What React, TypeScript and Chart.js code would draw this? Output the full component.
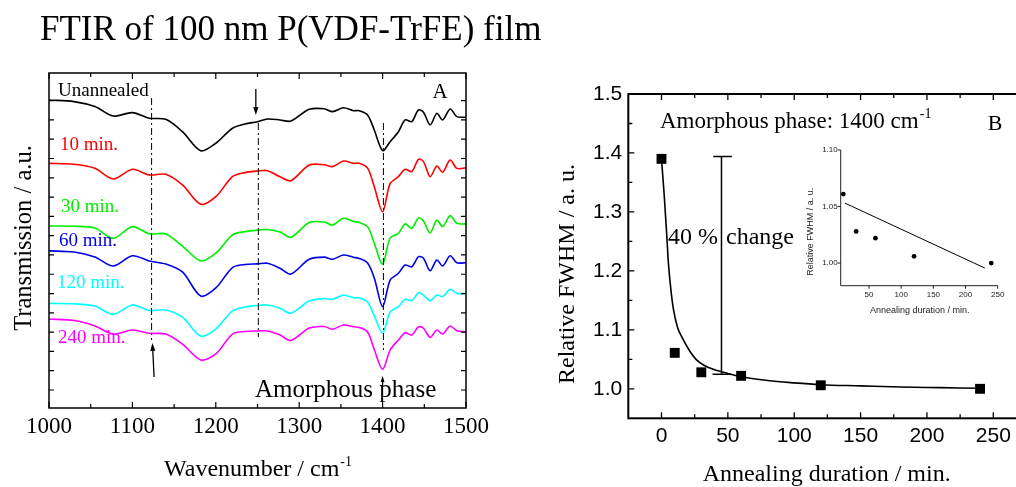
import React, { useEffect, useRef } from "react";
import { Chart, registerables } from "chart.js";

Chart.register(...registerables);

// ---------- Panel A: FTIR spectra ----------
const wavenumbers = [1000, 1030, 1055, 1077, 1100, 1120, 1140, 1160, 1182, 1200, 1220, 1235, 1250, 1262, 1277, 1290, 1312, 1330, 1340, 1353, 1365, 1372, 1382, 1390, 1400, 1409, 1419, 1427, 1435, 1443, 1449, 1457, 1465, 1472, 1481, 1489, 1500];
const unannealed = [15.03, 14.95, 14.69, 14.2, 14.38, 14.09, 14.03, 13.39, 12.4, 12.79, 13.57, 13.79, 13.91, 14.05, 14.0, 13.94, 14.55, 14.58, 14.43, 14.63, 14.48, 14.48, 14.26, 13.48, 12.41, 12.87, 13.39, 14.0, 13.91, 14.52, 14.4, 13.74, 14.34, 14.0, 14.57, 14.17, 14.14];
const min10 = [11.75, 11.7, 11.49, 10.94, 11.44, 11.15, 11.18, 10.63, 9.63, 10.02, 11.06, 11.27, 11.35, 11.37, 11.05, 10.85, 11.66, 11.68, 11.58, 11.87, 11.75, 11.75, 11.5, 10.54, 9.24, 10.7, 11.06, 11.44, 11.32, 11.96, 11.84, 11.06, 11.61, 11.29, 11.92, 11.49, 11.52];
const min30 = [8.5, 8.49, 8.4, 7.86, 8.47, 8.1, 8.09, 7.46, 6.69, 7.09, 8.04, 8.21, 8.29, 8.32, 8.19, 7.92, 8.68, 8.71, 8.55, 8.9, 8.74, 8.68, 8.47, 7.61, 6.53, 7.88, 8.12, 8.61, 8.38, 8.92, 8.76, 8.14, 8.81, 8.47, 9.04, 8.64, 8.61];
const min60 = [7.21, 7.15, 6.89, 6.43, 6.96, 6.69, 6.53, 6.12, 4.87, 5.29, 6.35, 6.51, 6.54, 6.57, 6.31, 6.01, 6.78, 6.89, 6.78, 7.0, 6.88, 6.82, 6.58, 5.81, 4.32, 5.7, 6.05, 6.48, 6.39, 6.91, 6.83, 6.18, 6.74, 6.43, 6.96, 6.6, 6.6];
const min120 = [4.49, 4.47, 4.35, 3.92, 4.41, 4.12, 4.15, 3.78, 2.8, 3.16, 4.1, 4.3, 4.38, 4.41, 4.24, 3.98, 4.61, 4.74, 4.7, 4.92, 4.78, 4.77, 4.56, 3.84, 2.94, 4.04, 4.32, 4.7, 4.63, 5.04, 4.92, 4.63, 4.92, 4.84, 5.22, 5.01, 5.01];
const min240 = [3.68, 3.6, 3.32, 2.9, 3.11, 2.94, 2.9, 2.38, 1.56, 1.87, 2.9, 3.03, 3.06, 3.06, 2.85, 2.57, 3.21, 3.29, 3.15, 3.37, 3.28, 3.24, 3.01, 2.1, 1.07, 2.07, 2.59, 2.97, 2.85, 3.28, 3.2, 2.73, 3.11, 2.9, 3.32, 3.07, 3.02];
const spectraLabels = ["Unannealed", "10 min.", "30 min.", "60 min.", "120 min.", "240 min."];
const spectraColors = ["#000000", "#ff0000", "#00ee00", "#0000e6", "#00ffff", "#ff00ff"];
const xMajorA = [1000, 1100, 1200, 1300, 1400, 1500];
const xMinorA = [1050, 1150, 1250, 1350, 1450];
const yTicksA = [0, 1, 2, 3, 4, 5, 6, 7, 8, 9, 10, 11, 12, 13, 14, 15];

// ---------- Panel B: relative FWHM ----------
const durations = [0, 10, 30, 60, 120, 240];
const relFwhm = [1.39, 1.061, 1.028, 1.022, 1.006, 1.0];
const fitDurations = [0, 2, 4, 5, 7, 9, 12, 16, 21, 26, 32, 39, 50, 59, 80, 100, 120, 150, 180, 210, 240];
const fitValues = [1.39, 1.33, 1.26, 1.22, 1.17, 1.135, 1.105, 1.085, 1.065, 1.05, 1.04, 1.033, 1.026, 1.021, 1.014, 1.01, 1.007, 1.005, 1.003, 1.002, 1.001];
const xMajorB = [0, 50, 100, 150, 200, 250];
const xMinorB = [25, 75, 125, 175, 225];
const yMajorB = [1.0, 1.1, 1.2, 1.3, 1.4, 1.5];
const yMinorB = [1.05, 1.15, 1.25, 1.35, 1.45];

// ---------- Inset ----------
const insetDurations = [10, 30, 60, 120, 240];
const insetFwhm = [1.061, 1.028, 1.022, 1.006, 1.0];
const insetFitDurations = [12.7, 230];
const insetFitValues = [1.053, 0.9956];
const insetXTicks = [50, 100, 150, 200, 250];
const insetYTicks = [1.0, 1.05, 1.1];

const W = 1040;
const H = 487;
const SERIF = '"Liberation Serif", "Times New Roman", serif';
const SANS = '"Liberation Sans", Arial, sans-serif';

function fixedTicks(values: number[]) {
  return (s: any) => {
    s.ticks = values.map((v) => ({ value: v }));
  };
}

function arrow(ctx: CanvasRenderingContext2D, x1: number, y1: number, x2: number, y2: number, head = 7) {
  const a = Math.atan2(y2 - y1, x2 - x1);
  const c = Math.cos(a), s = Math.sin(a);
  ctx.beginPath();
  ctx.moveTo(x1, y1);
  ctx.lineTo(x2 - c * head * 0.7, y2 - s * head * 0.7);
  ctx.stroke();
  ctx.beginPath();
  ctx.moveTo(x2, y2);
  ctx.lineTo(x2 - head * c + head * 0.32 * s, y2 - head * s - head * 0.32 * c);
  ctx.lineTo(x2 - head * c - head * 0.32 * s, y2 - head * s + head * 0.32 * c);
  ctx.closePath();
  ctx.fill();
}

function supText(ctx: CanvasRenderingContext2D, main: string, sup: string, x: number, y: number, size: number, supSize: number, rise: number, align: "left" | "center") {
  ctx.font = `${size}px ${SERIF}`;
  const w1 = ctx.measureText(main).width;
  ctx.font = `${supSize}px ${SERIF}`;
  const w2 = sup ? ctx.measureText(sup).width : 0;
  const x0 = align === "center" ? x - (w1 + w2) / 2 : x;
  ctx.textAlign = "left";
  ctx.textBaseline = "alphabetic";
  ctx.font = `${size}px ${SERIF}`;
  ctx.fillText(main, x0, y);
  if (sup) {
    ctx.font = `${supSize}px ${SERIF}`;
    ctx.fillText(sup, x0 + w1 + 1, y - rise);
  }
}

function drawTicks(ctx: CanvasRenderingContext2D, chart: any, axis: "x" | "y", values: number[], len: number, sides: string[], outward = false) {
  const { left, right, top, bottom } = chart.chartArea;
  const sc = chart.scales[axis];
  ctx.beginPath();
  values.forEach((v) => {
    const p = sc.getPixelForValue(v);
    sides.forEach((side) => {
      const d = outward ? -len : len;
      if (side === "bottom") { ctx.moveTo(p, bottom); ctx.lineTo(p, bottom - d); }
      if (side === "top") { ctx.moveTo(p, top); ctx.lineTo(p, top + d); }
      if (side === "left") { ctx.moveTo(left, p); ctx.lineTo(left + d, p); }
      if (side === "right") { ctx.moveTo(right, p); ctx.lineTo(right - d, p); }
    });
  });
  ctx.stroke();
}

const pluginA = {
  id: "panelA",
  afterDraw(chart: any) {
    const ctx: CanvasRenderingContext2D = chart.ctx;
    const { left, right, top, bottom } = chart.chartArea;
    const xs = chart.scales.x, ys = chart.scales.y;
    const X = (v: number) => xs.getPixelForValue(v);
    const Y = (v: number) => ys.getPixelForValue(v);
    ctx.save();
    ctx.strokeStyle = "#000";
    ctx.fillStyle = "#000";
    ctx.lineWidth = 1.5;
    ctx.strokeRect(left, top, right - left, bottom - top);
    ctx.lineWidth = 1.2;
    drawTicks(ctx, chart, "x", xMajorA, 6, ["bottom", "top"]);
    drawTicks(ctx, chart, "x", xMinorA, 4, ["bottom", "top"]);
    drawTicks(ctx, chart, "y", yTicksA, 5, ["left", "right"]);

    // dash-dot marker lines
    ctx.lineWidth = 1;
    ctx.setLineDash([7, 3, 2, 3]);
    const vlines = [[1123, 15.14, 2.59], [1251, 13.84, 2.75], [1401, 13.84, 2.07]];
    vlines.forEach(([wx, y1, y2]) => {
      ctx.beginPath();
      ctx.moveTo(X(wx), Y(y1));
      ctx.lineTo(X(wx), Y(y2));
      ctx.stroke();
    });
    ctx.setLineDash([]);
    ctx.lineWidth = 1.3;
    arrow(ctx, X(1248), Y(15.6), X(1248), Y(14.26), 8);
    arrow(ctx, X(1126), Y(0.67), X(1124), Y(2.44), 8);
    arrow(ctx, X(1400), Y(0.14), X(1400), Y(0.73), 6);

    // labels
    ctx.textAlign = "left";
    ctx.textBaseline = "middle";
    ctx.font = `19px ${SERIF}`;
    const lx = [58, 60, 61, 59, 57, 58];
    const ly = [91, 145, 207, 241, 283, 338];
    spectraLabels.forEach((t, i) => {
      ctx.fillStyle = spectraColors[i];
      ctx.fillText(t, lx[i], ly[i]);
    });
    ctx.fillStyle = "#000";
    ctx.textBaseline = "alphabetic";
    ctx.font = `21px ${SERIF}`;
    ctx.textAlign = "center";
    ctx.fillText("A", 440, 98);
    ctx.textAlign = "left";
    ctx.font = `25px ${SERIF}`;
    ctx.fillText("Amorphous phase", 255, 397);

    // axis titles
    supText(ctx, "Wavenumber / cm", "-1", (left + right) / 2, 476, 24, 14, 10, "center");
    ctx.save();
    ctx.translate(31, 238);
    ctx.rotate(-Math.PI / 2);
    ctx.textAlign = "center";
    ctx.textBaseline = "alphabetic";
    ctx.font = `24.5px ${SERIF}`;
    ctx.fillText("Transmission / a.u.", 0, 0);
    ctx.restore();

    // figure title
    ctx.textAlign = "left";
    ctx.textBaseline = "alphabetic";
    ctx.font = `35px ${SERIF}`;
    ctx.fillText("FTIR of 100 nm P(VDF-TrFE) film", 40, 40);
    ctx.restore();
  },
};

const pluginB = {
  id: "panelB",
  afterDraw(chart: any) {
    const ctx: CanvasRenderingContext2D = chart.ctx;
    const { left, right, top, bottom } = chart.chartArea;
    const xs = chart.scales.x, ys = chart.scales.y;
    const X = (v: number) => xs.getPixelForValue(v);
    const Y = (v: number) => ys.getPixelForValue(v);
    ctx.save();
    ctx.strokeStyle = "#000";
    ctx.fillStyle = "#000";
    ctx.lineWidth = 2;
    ctx.strokeRect(left, top, right - left, bottom - top);
    ctx.lineWidth = 1.3;
    drawTicks(ctx, chart, "x", xMajorB, 6, ["bottom", "top"]);
    drawTicks(ctx, chart, "x", xMinorB, 4, ["bottom", "top"]);
    drawTicks(ctx, chart, "y", yMajorB, 6, ["left"]);
    drawTicks(ctx, chart, "y", yMinorB, 4, ["left"]);

    // 40 % change bar
    ctx.lineWidth = 1.5;
    ctx.beginPath();
    ctx.moveTo(X(45.2), Y(1.394));
    ctx.lineTo(X(45.2), Y(1.0245));
    ctx.moveTo(X(39), Y(1.394));
    ctx.lineTo(X(53), Y(1.394));
    ctx.moveTo(X(38.5), Y(1.0245));
    ctx.lineTo(X(52.5), Y(1.0245));
    ctx.stroke();

    ctx.font = `24px ${SERIF}`;
    ctx.textBaseline = "alphabetic";
    ctx.textAlign = "right";
    ctx.fillText("40 %", 718, 244);
    ctx.textAlign = "left";
    ctx.fillText("change", 726, 244);
    supText(ctx, "Amorphous phase: 1400 cm", "-1", 660, 128, 23, 14, 10, "left");
    ctx.font = `22px ${SERIF}`;
    ctx.textAlign = "center";
    ctx.fillText("B", 995, 130);

    supText(ctx, "Annealing duration / min.", "", 826.7, 481, 24, 14, 10, "center");
    ctx.save();
    ctx.translate(574, 274);
    ctx.rotate(-Math.PI / 2);
    ctx.textAlign = "center";
    ctx.textBaseline = "alphabetic";
    ctx.font = `24px ${SERIF}`;
    ctx.fillText("Relative FWHM / a. u.", 0, 0);
    ctx.restore();
    ctx.restore();
  },
};

const pluginInset = {
  id: "inset",
  afterDraw(chart: any) {
    const ctx: CanvasRenderingContext2D = chart.ctx;
    const { left, right, top, bottom } = chart.chartArea;
    ctx.save();
    ctx.strokeStyle = "#222";
    ctx.fillStyle = "#222";
    ctx.lineWidth = 1;
    ctx.beginPath();
    ctx.moveTo(left, top);
    ctx.lineTo(left, bottom);
    ctx.lineTo(right, bottom);
    ctx.stroke();
    drawTicks(ctx, chart, "x", insetXTicks, 3, ["bottom"], true);
    drawTicks(ctx, chart, "y", insetYTicks, 3, ["left"], true);
    ctx.font = `9px ${SANS}`;
    ctx.textAlign = "center";
    ctx.textBaseline = "alphabetic";
    ctx.fillText("Annealing duration / min.", 919.7, 313);
    ctx.save();
    ctx.translate(812.5, 231.7);
    ctx.rotate(-Math.PI / 2);
    ctx.fillText("Relative FWHM / a. u.", 0, 0);
    ctx.restore();
    ctx.restore();
  },
};

function configA(): any {
  const series = [unannealed, min10, min30, min60, min120, min240];
  return {
    type: "line",
    data: {
      datasets: series.map((vals, i) => ({
        label: spectraLabels[i],
        data: wavenumbers.map((w, j) => ({ x: w, y: vals[j] })),
        borderColor: spectraColors[i],
        borderWidth: 1.6,
        pointRadius: 0,
        tension: 0.3,
        fill: false,
      })),
    },
    options: {
      responsive: false,
      animation: false,
      events: [],
      layout: { padding: { left: 0, top: 73, right: W - 466, bottom: 0 } },
      plugins: { legend: { display: false }, tooltip: { enabled: false } },
      scales: {
        x: {
          type: "linear",
          min: 1000,
          max: 1500,
          afterBuildTicks: fixedTicks(xMajorA),
          afterFit: (s: any) => { s.height = H - 408; },
          grid: { display: false, drawTicks: false },
          border: { display: false },
          ticks: {
            padding: 5,
            color: "#000",
            font: { family: SERIF, size: 23 },
            callback: (v: any) => String(v),
          },
        },
        y: {
          type: "linear",
          min: -0.933,
          max: 16.433,
          afterBuildTicks: fixedTicks(yTicksA),
          afterFit: (s: any) => { s.width = 49; },
          grid: { display: false, drawTicks: false },
          border: { display: false },
          ticks: { display: false },
        },
      },
    },
    plugins: [pluginA],
  };
}

function configB(): any {
  return {
    type: "line",
    data: {
      datasets: [
        {
          data: durations.map((d, i) => ({ x: d, y: relFwhm[i] })),
          showLine: false,
          pointStyle: "rect",
          pointRadius: 7,
          backgroundColor: "#000",
          borderWidth: 0,
          order: 0,
        },
        {
          data: fitDurations.map((d, i) => ({ x: d, y: fitValues[i] })),
          borderColor: "#000",
          borderWidth: 1.6,
          pointRadius: 0,
          cubicInterpolationMode: "monotone",
          fill: false,
          order: 1,
        },
      ],
    },
    options: {
      responsive: false,
      animation: false,
      events: [],
      clip: false,
      layout: { padding: { left: 560, top: 94, right: W - 1026.5, bottom: 0 } },
      plugins: { legend: { display: false }, tooltip: { enabled: false } },
      scales: {
        x: {
          type: "linear",
          min: -25,
          max: 275,
          afterBuildTicks: fixedTicks(xMajorB),
          afterFit: (s: any) => { s.height = H - 418.3; },
          grid: { display: false, drawTicks: false },
          border: { display: false },
          ticks: {
            padding: 5,
            color: "#000",
            font: { family: SANS, size: 21 },
            callback: (v: any) => String(v),
          },
        },
        y: {
          type: "linear",
          min: 0.95,
          max: 1.5,
          afterBuildTicks: fixedTicks(yMajorB),
          afterFit: (s: any) => { s.width = 628.3 - 560; },
          grid: { display: false, drawTicks: false },
          border: { display: false },
          ticks: {
            padding: 6,
            color: "#000",
            font: { family: SANS, size: 21 },
            callback: (v: any) => Number(v).toFixed(1),
          },
        },
      },
    },
    plugins: [pluginB],
  };
}

function configInset(): any {
  return {
    type: "line",
    data: {
      datasets: [
        {
          data: insetDurations.map((d, i) => ({ x: d, y: insetFwhm[i] })),
          showLine: false,
          pointRadius: 2.4,
          backgroundColor: "#000",
          borderWidth: 0,
        },
        {
          data: insetFitDurations.map((d, i) => ({ x: d, y: insetFitValues[i] })),
          borderColor: "#000",
          borderWidth: 1,
          pointRadius: 0,
          fill: false,
        },
      ],
    },
    options: {
      responsive: false,
      animation: false,
      events: [],
      clip: false,
      layout: { padding: { left: 800.7, top: 150, right: W - 997.7, bottom: H - 285.7 - 30 } },
      plugins: { legend: { display: false }, tooltip: { enabled: false } },
      scales: {
        x: {
          type: "linear",
          min: 6,
          max: 250,
          afterBuildTicks: fixedTicks(insetXTicks),
          afterFit: (s: any) => { s.height = 30; },
          grid: { display: false, drawTicks: false },
          border: { display: false },
          ticks: {
            padding: 4,
            color: "#222",
            font: { family: SANS, size: 8 },
            callback: (v: any) => String(v),
          },
        },
        y: {
          type: "linear",
          min: 0.98,
          max: 1.1,
          afterBuildTicks: fixedTicks(insetYTicks),
          afterFit: (s: any) => { s.width = 40; },
          grid: { display: false, drawTicks: false },
          border: { display: false },
          ticks: {
            padding: 3,
            color: "#222",
            font: { family: SANS, size: 8 },
            callback: (v: any) => Number(v).toFixed(2),
          },
        },
      },
    },
    plugins: [pluginInset],
  };
}

export default function App() {
  const refA = useRef<HTMLCanvasElement>(null);
  const refB = useRef<HTMLCanvasElement>(null);
  const refC = useRef<HTMLCanvasElement>(null);

  useEffect(() => {
    const charts = [
      new Chart(refA.current as HTMLCanvasElement, configA()),
      new Chart(refB.current as HTMLCanvasElement, configB()),
      new Chart(refC.current as HTMLCanvasElement, configInset()),
    ];
    return () => charts.forEach((c) => c.destroy());
  }, []);

  const canvasStyle: React.CSSProperties = { position: "absolute", left: 0, top: 0, width: W, height: H };
  return (
    <div style={{ position: "absolute", left: 0, top: 0, width: 1016, height: 487, overflow: "hidden", background: "#fff" }}>
      <canvas ref={refA} width={W} height={H} style={canvasStyle} />
      <canvas ref={refB} width={W} height={H} style={canvasStyle} />
      <canvas ref={refC} width={W} height={H} style={canvasStyle} />
    </div>
  );
}
